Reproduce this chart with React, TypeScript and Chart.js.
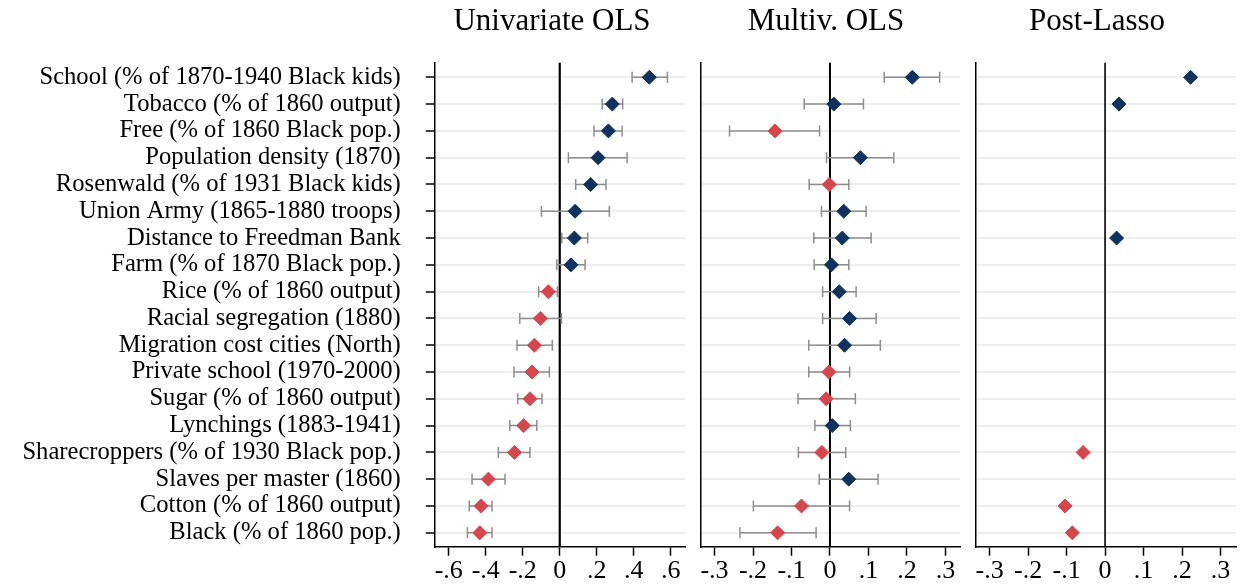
import React, { useEffect, useRef } from "react";
import { Chart, registerables } from "chart.js";

Chart.register(...registerables);

const labels = [
  "School (% of 1870-1940 Black kids)",
  "Tobacco (% of 1860 output)",
  "Free (% of 1860 Black pop.)",
  "Population density (1870)",
  "Rosenwald (% of 1931 Black kids)",
  "Union Army (1865-1880 troops)",
  "Distance to Freedman Bank",
  "Farm (% of 1870 Black pop.)",
  "Rice (% of 1860 output)",
  "Racial segregation (1880)",
  "Migration cost cities (North)",
  "Private school (1970-2000)",
  "Sugar (% of 1860 output)",
  "Lynchings (1883-1941)",
  "Sharecroppers (% of 1930 Black pop.)",
  "Slaves per master (1860)",
  "Cotton (% of 1860 output)",
  "Black (% of 1860 pop.)",
];

const uniEst = [0.484, 0.284, 0.263, 0.207, 0.167, 0.083, 0.079, 0.061, -0.062, -0.105, -0.137, -0.15, -0.161, -0.195, -0.245, -0.386, -0.425, -0.432];
const uniLo = [0.391, 0.229, 0.185, 0.047, 0.086, -0.099, 0.011, -0.016, -0.114, -0.216, -0.231, -0.247, -0.227, -0.27, -0.332, -0.474, -0.489, -0.499];
const uniHi = [0.582, 0.34, 0.337, 0.364, 0.25, 0.268, 0.151, 0.137, -0.013, 0.009, -0.04, -0.056, -0.096, -0.124, -0.161, -0.296, -0.366, -0.366];

const mvEst = [0.214, 0.01, -0.143, 0.079, -0.002, 0.036, 0.032, 0.004, 0.024, 0.051, 0.038, -0.003, -0.01, 0.006, -0.021, 0.049, -0.074, -0.136];
const mvLo = [0.141, -0.067, -0.261, -0.009, -0.054, -0.022, -0.042, -0.041, -0.019, -0.019, -0.055, -0.055, -0.083, -0.039, -0.082, -0.028, -0.199, -0.234];
const mvHi = [0.285, 0.087, -0.027, 0.166, 0.049, 0.094, 0.107, 0.049, 0.068, 0.12, 0.131, 0.051, 0.066, 0.053, 0.041, 0.125, 0.051, -0.036];

const plEst = [0.222, 0.036, null, null, null, null, 0.03, null, null, null, null, null, null, null, -0.057, null, -0.104, -0.085];
const plLo = [null, null, null, null, null, null, null, null, null, null, null, null, null, null, -0.061, null, -0.109, -0.089];
const plHi = [null, null, null, null, null, null, null, null, null, null, null, null, null, null, -0.053, null, -0.099, -0.081];

const ticksWide = [-0.6, -0.4, -0.2, 0, 0.2, 0.4, 0.6];
const ticksNarrow = [-0.3, -0.2, -0.1, 0, 0.1, 0.2, 0.3];

const titles = ["Univariate OLS", "Multiv. OLS", "Post-Lasso"];

const NAVY = "#10325e";
const RED = "#d8464d";
const SERIF = "'Liberation Serif', 'Times New Roman', serif";

function fmt(v: number): string {
  if (Math.abs(v) < 1e-9) return "0";
  const s = Math.abs(v).toFixed(1).replace(/^0/, "");
  return (v < 0 ? "-" : "") + s;
}

type PanelProps = {
  title: string;
  titleX: number;
  est: (number | null)[];
  lo: (number | null)[];
  hi: (number | null)[];
  ticks: number[];
  xMin: number;
  xMax: number;
  canvasLeft: number;
  chartLeft: number;
  chartRight: number;
  showLabels: boolean;
  zeroWidth: number;
  capHalf: number;
};

const H = 588;
const TOP = 62.7;
const BOTTOM = 546.7;
const RIGHT_PAD = 8;

function Panel(p: PanelProps) {
  const ref = useRef<HTMLCanvasElement | null>(null);
  const canvasWidth = Math.round(p.chartRight + RIGHT_PAD - p.canvasLeft);
  useEffect(() => {
    if (!ref.current) return;
    const points: { x: number; y: number }[] = [];
    const colors: string[] = [];
    p.est.forEach((v, i) => {
      if (v !== null && v !== undefined) {
        points.push({ x: v, y: i });
        colors.push(v < 0 ? RED : NAVY);
      }
    });

    const decor = {
      id: "decor",
      beforeDatasetsDraw(chart: any) {
        const ctx = chart.ctx;
        const xs = chart.scales.x;
        const ys = chart.scales.y;
        const area = chart.chartArea;
        ctx.save();
        const x0 = xs.getPixelForValue(0);
        ctx.strokeStyle = "#000";
        ctx.lineWidth = p.zeroWidth;
        ctx.beginPath();
        ctx.moveTo(x0, area.top);
        ctx.lineTo(x0, area.bottom);
        ctx.stroke();
        ctx.strokeStyle = "#8e8e8e";
        ctx.lineWidth = 1.5;
        p.lo.forEach((l, i) => {
          const h = p.hi[i];
          if (l === null || h === null || l === undefined || h === undefined) return;
          const y = ys.getPixelForValue(i);
          const a = xs.getPixelForValue(l);
          const b = xs.getPixelForValue(h);
          ctx.beginPath();
          ctx.moveTo(a, y);
          ctx.lineTo(b, y);
          ctx.moveTo(a, y - p.capHalf);
          ctx.lineTo(a, y + p.capHalf);
          ctx.moveTo(b, y - p.capHalf);
          ctx.lineTo(b, y + p.capHalf);
          ctx.stroke();
        });
        ctx.restore();
      },
      afterDraw(chart: any) {
        const ctx = chart.ctx;
        ctx.save();
        ctx.fillStyle = "#000";
        ctx.font = `31px ${SERIF}`;
        ctx.textAlign = "center";
        ctx.textBaseline = "alphabetic";
        ctx.fillText(p.title, p.titleX - p.canvasLeft, 30);
        ctx.restore();
      },
    };

    const chart = new Chart(ref.current, {
      type: "scatter",
      data: {
        datasets: [
          {
            data: points,
            pointStyle: "rectRot",
            pointRadius: 7,
            pointHoverRadius: 7,
            pointBackgroundColor: colors,
            pointBorderColor: colors,
            pointBorderWidth: 1,
          } as any,
        ],
      },
      options: {
        animation: false,
        responsive: false,
        events: [],
        layout: {
          padding: {
            top: TOP,
            left: 0,
            bottom: 0,
            right: canvasWidth + p.canvasLeft - p.chartRight,
          },
        },
        plugins: {
          legend: { display: false },
          tooltip: { enabled: false },
          title: { display: false },
        },
        scales: {
          x: {
            type: "linear",
            min: p.xMin,
            max: p.xMax,
            afterBuildTicks: (scale: any) => {
              scale.ticks = p.ticks.map((v) => ({ value: v }));
            },
            afterFit: (scale: any) => {
              scale.height = H - BOTTOM;
              scale.paddingLeft = 0;
              scale.paddingRight = 0;
            },
            ticks: {
              callback: (v: any) => fmt(Number(v)),
              font: { family: SERIF, size: 26 },
              color: "#000",
              maxRotation: 0,
              autoSkip: false,
              padding: 0,
            },
            grid: {
              drawOnChartArea: false,
              drawTicks: true,
              tickLength: 9,
              tickColor: "#000",
              tickWidth: 1.5,
            },
            border: { display: true, color: "#000", width: 1.5 },
          },
          y: {
            type: "linear",
            reverse: true,
            min: -0.545,
            max: 17.52,
            afterBuildTicks: (scale: any) => {
              scale.ticks = labels.map((_, i) => ({ value: i }));
            },
            afterFit: (scale: any) => {
              scale.width = p.chartLeft - p.canvasLeft;
              scale.paddingTop = 0;
              scale.paddingBottom = 0;
            },
            ticks: {
              display: p.showLabels,
              callback: (v: any) => labels[Number(v)] ?? "",
              font: { family: SERIF, size: 24.6 },
              color: "#000",
              padding: 25,
              autoSkip: false,
            },
            grid: {
              color: "#eeeeee",
              lineWidth: 2,
              drawTicks: p.showLabels,
              tickLength: 8.5,
              tickColor: "#000",
              tickWidth: 1.5,
            },
            border: { display: true, color: "#000", width: 1.5 },
          },
        },
      } as any,
      plugins: [decor],
    });
    return () => chart.destroy();
  }, []);

  return (
    <canvas
      ref={ref}
      width={canvasWidth}
      height={H}
      style={{
        position: "absolute",
        left: p.canvasLeft,
        top: 0,
        width: canvasWidth,
        height: H,
      }}
    />
  );
}

export default function App() {
  return (
    <div
      style={{
        position: "absolute",
        left: 0,
        top: 0,
        width: 1240,
        height: H,
        background: "#fff",
        overflow: "hidden",
      }}
    >
      <Panel
        title={titles[0]}
        titleX={552}
        est={uniEst}
        lo={uniLo}
        hi={uniHi}
        ticks={ticksWide}
        xMin={-0.678}
        xMax={0.677}
        canvasLeft={0}
        chartLeft={434.3}
        chartRight={685}
        showLabels={true}
        zeroWidth={2.2}
        capHalf={5.5}
      />
      <Panel
        title={titles[1]}
        titleX={826}
        est={mvEst}
        lo={mvLo}
        hi={mvHi}
        ticks={ticksNarrow}
        xMin={-0.337}
        xMax={0.338}
        canvasLeft={690}
        chartLeft={700.3}
        chartRight={960}
        showLabels={false}
        zeroWidth={2}
        capHalf={5.5}
      />
      <Panel
        title={titles[2]}
        titleX={1097}
        est={plEst}
        lo={plLo}
        hi={plHi}
        ticks={ticksNarrow}
        xMin={-0.337}
        xMax={0.34}
        canvasLeft={965}
        chartLeft={975.3}
        chartRight={1236}
        showLabels={false}
        zeroWidth={1.6}
        capHalf={3}
      />
    </div>
  );
}
